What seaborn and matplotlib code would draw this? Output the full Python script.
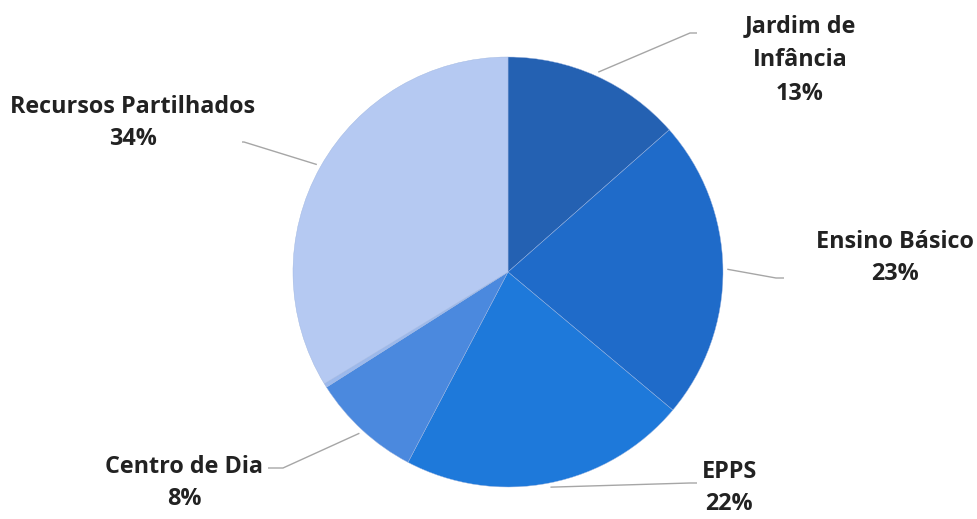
import numpy as np
import matplotlib
matplotlib.use("Agg")
import matplotlib.pyplot as plt
import seaborn as sns

# ---- data ----
categories = ["Jardim de\nInfância", "Ensino Básico", "EPPS", "Centro de Dia", "", "Recursos Partilhados"]
values = [13.5, 22.6, 21.6, 8.3, 0.3, 33.7]
pct_labels = ["13%", "23%", "22%", "8%", "", "34%"]
colors = ["#2461B2", "#1F6BC9", "#1E79DA", "#4B89DE", "#9CB9EC", "#B5C9F2"]

sns.set_theme(style="white")
plt.rcParams["font.family"] = ["Open Sans", "DejaVu Sans"]

W, H, DPI = 978, 519, 100
fig = plt.figure(figsize=(W / DPI, H / DPI), dpi=DPI)
ax = fig.add_axes([0, 0, 1, 1])

# pie geometry in pixels
cx, cy, R = 508, 272, 215

wedges, _ = ax.pie(values, colors=colors, startangle=90, counterclock=False,
                   radius=1.0, center=(0, 0), frame=True,
                   wedgeprops=dict(linewidth=0.3, edgecolor="#9DB5E0"))
ax.set_xlim(-cx / R, (W - cx) / R)
ax.set_ylim(-(H - cy) / R, cy / R)
ax.set_aspect("equal")
ax.axis("off")

def px(x, y):
    return ((x - cx) / R, (cy - y) / R)

# label layout (pixels): elbow points, line end, text center
layout = {
    0: dict(elbow=(690, 33), end=(697, 33), text=(800, 60), ls=1.55),
    1: dict(elbow=(776, 278), end=(784, 278), text=(895, 258), ls=1.45),
    2: dict(elbow=(690, 483), end=(697, 483), text=(729, 488), ls=1.45),
    3: dict(elbow=(283, 468), end=(268, 468), text=(184, 483), ls=1.45),
    5: dict(elbow=(244, 142), end=(242, 142), text=(133, 123), ls=1.45),
}

for i, w in enumerate(wedges):
    if i not in layout:
        continue
    ang = np.deg2rad((w.theta1 + w.theta2) / 2)
    sx, sy = 1.02 * np.cos(ang), 1.02 * np.sin(ang)
    L = layout[i]
    ex, ey = px(*L["elbow"])
    fx, fy = px(*L["end"])
    ax.plot([sx, ex, fx], [sy, ey, fy], color="#A6A6A6", lw=1.0, solid_capstyle="butt")
    tx, ty = px(*L["text"])
    ax.text(tx, ty, f"{categories[i]}\n{pct_labels[i]}", ha="center", va="center",
            fontsize=16.8, fontweight="bold", color="#222222", linespacing=L["ls"])

fig.savefig("out.png", dpi=DPI)
